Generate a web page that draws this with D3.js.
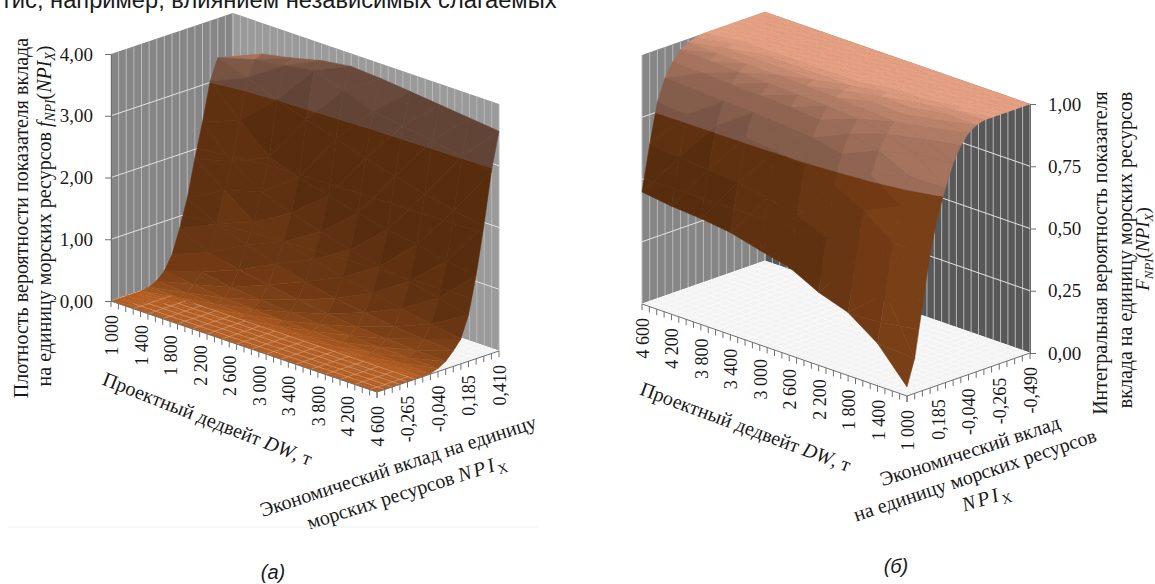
<!DOCTYPE html>
<html>
<head>
<meta charset="utf-8">
<script src="https://cdn.jsdelivr.net/npm/d3@7"></script>
<style>
  html, body { margin: 0; padding: 0; background: #fff; }
  svg { display: block; }
  text { font-family: "Liberation Serif", serif; fill: #1a1a1a; }
</style>
</head>
<body>
<svg id="chart" width="1155" height="584"></svg>
<script>
// deadweight and economic contribution axes
var dwLeft = [1000, 1400, 1800, 2200, 2600, 3000, 3400, 3800, 4200, 4600];
var npiLeft = [-0.49, -0.43375, -0.3775, -0.32125, -0.265, -0.20875, -0.1525, -0.09625, -0.04, 0.01625, 0.0725, 0.12875, 0.185, 0.24125, 0.2975, 0.35375, 0.41];
var dwRight = [4600, 4200, 3800, 3400, 3000, 2600, 2200, 1800, 1400, 1000];
var npiRight = [0.41, 0.35375, 0.2975, 0.24125, 0.185, 0.12875, 0.0725, 0.01625, -0.04, -0.09625, -0.1525, -0.20875, -0.265, -0.32125, -0.3775, -0.43375, -0.49];

// density values, one row per dwLeft, one column per npiLeft
var densityRows = [
  [0, 0, 0, 0, 0, 0.02, 0.08, 0.20, 0.42, 0.80, 1.25, 1.85, 2.40, 3.02, 3.36, 3.33, 3.19],
  [0, 0, 0, 0, 0, 0.01, 0.05, 0.14, 0.30, 0.58, 1.00, 1.50, 1.92, 2.55, 3.20, 3.45, 3.50],
  [0, 0, 0, 0, 0, 0.01, 0.03, 0.09, 0.22, 0.46, 0.82, 1.15, 1.60, 2.12, 3.00, 3.52, 3.60],
  [0, 0, 0, 0, 0, 0.005, 0.02, 0.07, 0.18, 0.38, 0.68, 1.00, 1.42, 1.95, 2.85, 3.60, 3.72],
  [0, 0, 0, 0, 0, 0.005, 0.015, 0.05, 0.14, 0.30, 0.55, 0.87, 1.28, 1.82, 2.70, 3.45, 3.79],
  [0, 0, 0, 0, 0, 0.003, 0.01, 0.04, 0.11, 0.24, 0.45, 0.75, 1.15, 1.70, 2.55, 3.27, 3.76],
  [0, 0, 0, 0, 0, 0.002, 0.01, 0.03, 0.09, 0.19, 0.38, 0.65, 1.05, 1.60, 2.42, 3.20, 3.71],
  [0, 0, 0, 0, 0, 0, 0.005, 0.02, 0.07, 0.16, 0.32, 0.57, 0.97, 1.52, 2.30, 3.12, 3.66],
  [0, 0, 0, 0, 0, 0, 0.005, 0.015, 0.06, 0.14, 0.28, 0.48, 0.86, 1.42, 2.20, 3.03, 3.61],
  [0, 0, 0, 0, 0, 0, 0, 0.01, 0.05, 0.12, 0.25, 0.40, 0.75, 1.35, 2.10, 2.95, 3.56]
];

// integral values, one row per dwRight, one column per npiRight
var integralRows = [
  [0.45, 0.63, 0.79, 0.875, 0.93, 0.967, 0.985, 0.995, 1, 1, 1, 1, 1, 1, 1, 1, 1],
  [0.434, 0.62, 0.78, 0.87, 0.925, 0.962, 0.982, 0.993, 0.998, 1, 1, 1, 1, 1, 1, 1, 1],
  [0.425, 0.61, 0.775, 0.865, 0.92, 0.958, 0.98, 0.992, 0.998, 1, 1, 1, 1, 1, 1, 1, 1],
  [0.41, 0.60, 0.77, 0.86, 0.915, 0.955, 0.978, 0.99, 0.997, 1, 1, 1, 1, 1, 1, 1, 1],
  [0.38, 0.58, 0.755, 0.85, 0.91, 0.95, 0.975, 0.988, 0.996, 1, 1, 1, 1, 1, 1, 1, 1],
  [0.353, 0.55, 0.74, 0.84, 0.90, 0.945, 0.97, 0.985, 0.995, 1, 1, 1, 1, 1, 1, 1, 1],
  [0.293, 0.50, 0.70, 0.815, 0.885, 0.935, 0.965, 0.982, 0.993, 0.999, 1, 1, 1, 1, 1, 1, 1],
  [0.253, 0.45, 0.64, 0.77, 0.86, 0.915, 0.955, 0.975, 0.99, 0.997, 1, 1, 1, 1, 1, 1, 1],
  [0.17, 0.36, 0.55, 0.69, 0.80, 0.875, 0.925, 0.96, 0.98, 0.993, 0.999, 1, 1, 1, 1, 1, 1],
  [0.036, 0.14, 0.34, 0.54, 0.68, 0.78, 0.87, 0.93, 0.97, 0.99, 1, 1, 1, 1, 1, 1, 1]
];

var densityTicks = [0, 1, 2, 3, 4];
var integralTicks = [0, 0.25, 0.5, 0.75, 1];
var npiLabelsLeft = [-0.265, -0.04, 0.185, 0.41];
var npiLabelsRight = [0.185, -0.04, -0.265, -0.49];

var ru = d3.formatLocale({ decimal: ",", thousands: "\u00a0", grouping: [3], currency: ["", ""], minus: "-" });
var fmtDw = ru.format(",d"), fmtNpi = ru.format(".3f"), fmtZ = ru.format(".2f");

var svg = d3.select("#chart");
var browns = d3.scaleLinear().domain([0, 1]).range(["#b35d22", "#3f2009"]);
var peaches = d3.scaleLinear().domain([0, 1]).range(["#e6a083", "#4f372c"]);

// every row of ticks between the labelled ones (100 t and 1/16 of the npi range)
function minorTicks(a, b, n) {
  return d3.range(n + 1).map(function (i) { return a + (b - a) * i / n; });
}

function clipZ(poly, limit, keepAbove) {
  var out = [];
  poly.forEach(function (p, k) {
    var q = poly[(k + 1) % poly.length];
    var pIn = keepAbove ? p[2] >= limit : p[2] <= limit;
    var qIn = keepAbove ? q[2] >= limit : q[2] <= limit;
    if (pIn) out.push(p);
    if (pIn != qIn) {
      var t = (limit - p[2]) / (q[2] - p[2]);
      out.push([p[0] + (q[0] - p[0]) * t, p[1] + (q[1] - p[1]) * t, limit]);
    }
  });
  return out;
}

function drawPanel(cfg) {
  var g = svg.append("g");
  var dw = cfg.dw, npi = cfg.npi, rows = cfg.rows;
  var xDw = d3.scaleLinear().domain([dw[0], dw[dw.length - 1]]).range(cfg.dwX);
  var yDw = d3.scaleLinear().domain([dw[0], dw[dw.length - 1]]).range(cfg.dwY);
  var xNpi = d3.scaleLinear().domain([npi[0], npi[npi.length - 1]]).range(cfg.npiX);
  var yNpi = d3.scaleLinear().domain([npi[0], npi[npi.length - 1]]).range(cfg.npiY);
  var yZ = d3.scaleLinear().domain([0, cfg.zTicks[cfg.zTicks.length - 1]]).range(cfg.zRange);

  function project(d, n, z) {
    return [xDw(d) + xNpi(n), yDw(d) + yNpi(n) + yZ(z) - yZ(0)];
  }
  var line = d3.line();
  var dwStart = dw[0], dwEnd = dw[dw.length - 1], nStart = npi[0], nEnd = npi[npi.length - 1];
  var zTop = cfg.zTicks[cfg.zTicks.length - 1];

  // walls and floor
  g.append("path").attr("fill", cfg.wallA).attr("d", line([project(dwStart, nStart, 0), project(dwStart, nEnd, 0), project(dwStart, nEnd, zTop), project(dwStart, nStart, zTop)]));
  g.append("path").attr("fill", cfg.wallB).attr("d", line([project(dwStart, nEnd, 0), project(dwEnd, nEnd, 0), project(dwEnd, nEnd, zTop), project(dwStart, nEnd, zTop)]));
  g.append("path").attr("fill", "#f3f3f3").attr("d", line([project(dwStart, nStart, 0), project(dwEnd, nStart, 0), project(dwEnd, nEnd, 0), project(dwStart, nEnd, 0)]));

  var dwMinor = minorTicks(dwStart, dwEnd, 36), nMinor = minorTicks(nStart, nEnd, 16);
  var grid = g.append("g").attr("fill", "none").attr("stroke-width", 1);
  nMinor.forEach(function (n) {
    grid.append("path").attr("stroke", "#b9b9b9").attr("d", line([project(dwStart, n, 0), project(dwStart, n, zTop)]));
    grid.append("path").attr("stroke", "#fafafa").attr("d", line([project(dwStart, n, 0), project(dwEnd, n, 0)]));
  });
  dwMinor.forEach(function (d) {
    grid.append("path").attr("stroke", "#b9b9b9").attr("d", line([project(d, nEnd, 0), project(d, nEnd, zTop)]));
    grid.append("path").attr("stroke", "#fafafa").attr("d", line([project(d, nStart, 0), project(d, nEnd, 0)]));
  });
  cfg.zTicks.forEach(function (z) {
    if (z == 0 || z == zTop) return;
    grid.append("path").attr("stroke", "#e4e4e4").attr("d", line([project(dwStart, nStart, z), project(dwStart, nEnd, z), project(dwEnd, nEnd, z)]));
  });

  // surface, far cells first, triangles cut along the value bands
  var bands = cfg.zTicks.slice(0, -1).map(function (z, i) { return [z, cfg.zTicks[i + 1]]; });
  bands[bands.length - 1][1] = zTop * 1.01;
  var surface = g.append("g");
  var zPx = Math.abs(yZ(1) - yZ(0));
  var lastI = dw.length - 1, lastJ = npi.length - 1;

  // shade of a grid node from the slopes around it
  function nodeShade(i, j) {
    var j0 = Math.max(0, j - 1), j1 = Math.min(lastJ, j + 1), i0 = Math.max(0, i - 1), i1 = Math.min(lastI, i + 1);
    var sn = Math.max(0, (rows[i][j1] - rows[i][j0]) * lastJ / (j1 - j0)) * zPx;
    var sd = Math.max(0, (rows[i0][j] - rows[i1][j]) * lastI / (i1 - i0)) * zPx;
    var t = sn / (sn + cfg.soft) - cfg.side * sd / (sd + 300);
    return Math.max(0, Math.min(1, t));
  }

  function drawTri(tri, t) {
    t = Math.round(t * 14) / 14;
    bands.forEach(function (b, k) {
      var poly = clipZ(clipZ(tri, b[0], true), b[1], false);
      if (poly.length < 3) return;
      var color = k == bands.length - 1 ? peaches(Math.pow(t, cfg.peakPower)) : browns(t);
      surface.append("path")
        .attr("d", line(poly.map(function (p) { return project(p[0], p[1], p[2]); })) + "Z")
        .attr("fill", color).attr("stroke", color).attr("stroke-width", 0.5);
    });
  }

  for (var i = 0; i < lastI; i++) {
    for (var j = lastJ - 1; j >= 0; j--) {
      var A = [dw[i], npi[j], rows[i][j]], B = [dw[i + 1], npi[j], rows[i + 1][j]];
      var C = [dw[i], npi[j + 1], rows[i][j + 1]], D = [dw[i + 1], npi[j + 1], rows[i + 1][j + 1]];
      var tA = nodeShade(i, j), tB = nodeShade(i + 1, j), tC = nodeShade(i, j + 1), tD = nodeShade(i + 1, j + 1);
      drawTri([A, C, D], (tA + tC + tD) / 3);
      drawTri([A, B, D], (tA + tB + tD) / 3);
    }
  }

  // floor lines showing through where the surface lies flat
  var flat = g.append("g").attr("fill", "none").attr("stroke", "#e8c9b0").attr("stroke-width", 0.7).attr("opacity", 0.55);
  if (cfg.flatLines) {
    nMinor.slice(1, 6).forEach(function (n, idx) {
      flat.append("path").attr("d", line([project(dwMinor[2 + idx], n, 0), project(dwEnd, n, 0)]));
    });
    dwMinor.slice(3).forEach(function (d, idx) {
      if (idx % 2) return;
      flat.append("path").attr("d", line([project(d, nStart, 0), project(d, nMinor[5], 0)]));
    });
  }

  // edge ticks
  var edges = g.append("g").attr("stroke", "#6f6f6f").attr("fill", "none");
  edges.append("path").attr("d", line([project(dwStart, nStart, 0), project(dwEnd, nStart, 0), project(dwEnd, nEnd, 0)]));
  dwMinor.forEach(function (d) {
    var p = project(d, nStart, 0);
    edges.append("path").attr("d", line([p, [p[0], p[1] + 6]]));
  });
  nMinor.forEach(function (n) {
    var p = project(dwEnd, n, 0);
    edges.append("path").attr("d", line([p, [p[0], p[1] + 6]]));
  });

  // vertical axis
  var axisScale = d3.scaleLinear().domain(yZ.domain()).range(cfg.zRange);
  var axis = cfg.zSide == "left" ? d3.axisLeft(axisScale) : d3.axisRight(axisScale);
  var axisP = project(cfg.axisDw, cfg.axisNpi, 0);
  var axG = g.append("g")
    .attr("transform", "translate(" + axisP[0] + ",0)")
    .call(axis.tickValues(cfg.zTicks).tickFormat(fmtZ).tickSize(6).tickPadding(12));
  axG.selectAll("path,line").attr("stroke", "#6f6f6f");
  axG.selectAll("text").attr("font-size", 19).attr("font-family", "Liberation Serif").attr("fill", "#1a1a1a");

  // rotated tick labels
  function tickLabel(p, s) {
    g.append("text")
      .attr("transform", "translate(" + (p[0] + 1) + "," + (p[1] + 14) + ") rotate(-90)")
      .attr("text-anchor", "end").attr("dy", "0.33em").attr("font-size", 18).text(s);
  }
  dw.forEach(function (d) { tickLabel(project(d, nStart, 0), fmtDw(d)); });
  cfg.npiLabels.forEach(function (n) { tickLabel(project(dwEnd, n, 0), fmtNpi(n)); });
}

// one text line built from plain, italic and subscript pieces
function richText(x, y, angle, size, parts) {
  var t = svg.append("text")
    .attr("transform", "translate(" + x + "," + y + ") rotate(" + angle + ")")
    .attr("text-anchor", "middle").attr("dy", "0.33em").attr("font-size", size);
  var shift = 0;
  parts.forEach(function (p) {
    var s = t.append("tspan").text(p.t);
    if (p.i) s.attr("font-style", "italic");
    if (p.ls) s.attr("letter-spacing", p.ls);
    var want = p.sub ? size * 0.22 : 0;
    if (want != shift) { s.attr("dy", want - shift); shift = want; }
    if (p.sub) s.attr("font-size", size * 0.68);
  });
}

var npiX = [{ t: "NPI", i: true, ls: 2.5 }, { t: "X", sub: true }];
var fPart = function (letter) {
  return [{ t: letter, i: true }, { t: "NPI", i: true, sub: true }, { t: "(" }, { t: "NPI", i: true }, { t: "X", i: true, sub: true }, { t: ")" }];
};

drawPanel({
  dw: dwLeft, npi: npiLeft, rows: densityRows, zTicks: densityTicks, npiLabels: npiLabelsLeft,
  dwX: [111, 377], dwY: [301, 392], npiX: [0, 122], npiY: [0, -41], zRange: [301, 54],
  wallA: "#868686", wallB: "#9a9a9a", soft: 170, side: 0.12, peakPower: 0.55, flatLines: true,
  zSide: "left", axisDw: 1000, axisNpi: -0.49
});
drawPanel({
  dw: dwRight, npi: npiRight, rows: integralRows, zTicks: integralTicks, npiLabels: npiLabelsRight,
  dwX: [642, 907], dwY: [304, 396], npiX: [0, 123], npiY: [0, -43], zRange: [353, 104],
  wallA: "#868686", wallB: "#585858", soft: 170, side: 0.55, peakPower: 1, flatLines: false,
  zSide: "right", axisDw: 1000, axisNpi: -0.49
});

// axis titles
richText(21, 218, -90, 20, [{ t: "Плотность вероятности показателя вклада" }]);
richText(44, 216, -90, 20, [{ t: "на единицу морских ресурсов " }].concat(fPart("f")));
richText(207.5, 419, 21.5, 20, [{ t: "Проектный дедвейт " }, { t: "DW", i: true }, { t: ", т" }]);
richText(398, 466, -18, 20, [{ t: "Экономический вклад на единицу" }]);
richText(406.5, 492, -17.5, 20, [{ t: "морских ресурсов " }].concat(npiX));

richText(1100, 253, -90, 20, [{ t: "Интегральная вероятность показателя" }]);
richText(1125, 250, -90, 20, [{ t: "вклада на единицу морских ресурсов" }]);
richText(1143, 249, -90, 19, fPart("F"));
richText(745.5, 427, 20.4, 20, [{ t: "Проектный дедвейт " }, { t: "DW", i: true }, { t: ", т" }]);
richText(970, 451, -18, 20, [{ t: "Экономический вклад" }]);
richText(975, 475, -18.4, 20, [{ t: "на единицу морских ресурсов" }]);
richText(986, 498, -17, 20, npiX);

// surrounding document text
svg.append("text").attr("x", 1).attr("y", 8).attr("font-size", 23.7)
  .style("font-family", "'Liberation Sans', sans-serif").text("тис, например, влиянием независимых слагаемых");
svg.append("line").attr("x1", 8).attr("x2", 538).attr("y1", 527).attr("y2", 527).attr("stroke", "#eeeeee");
svg.append("text").attr("x", 273).attr("y", 579).attr("text-anchor", "middle").attr("font-size", 20)
  .attr("font-style", "italic").style("font-family", "'Liberation Sans', sans-serif").text("(а)");
svg.append("text").attr("x", 896).attr("y", 573).attr("text-anchor", "middle").attr("font-size", 20)
  .attr("font-style", "italic").style("font-family", "'Liberation Sans', sans-serif").text("(б)");
</script>
</body>
</html>
